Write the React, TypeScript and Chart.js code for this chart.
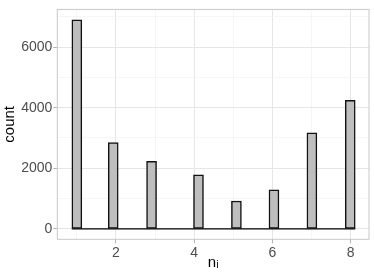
import React, { useEffect, useRef } from "react";
import { Chart, registerables } from "chart.js";

Chart.register(...registerables);

const binCenters = [1, 1.93, 2.91, 4.11, 5.08, 6.04, 7.01, 7.99];
const counts = [6900, 2850, 2230, 1785, 920, 1285, 3170, 4245];
const baselineX = [0.87, 8.12];
const xTicks = [1, 2, 3, 4, 5, 6, 7, 8];
const yTicks = [0, 1000, 2000, 3000, 4000, 5000, 6000, 7000];
const xTitle = "nᵢ";
const yTitle = "count";

const FONT = "'Liberation Sans', Arial, Helvetica, sans-serif";

const panelBorder = {
  id: "panelBorder",
  afterDraw(chart: any) {
    const { ctx, chartArea } = chart;
    ctx.save();
    ctx.strokeStyle = "#c8c8c8";
    ctx.lineWidth = 1;
    ctx.strokeRect(chartArea.left, chartArea.top, chartArea.right - chartArea.left, chartArea.bottom - chartArea.top);
    ctx.restore();
  },
};

export default function App() {
  const ref = useRef<HTMLCanvasElement>(null);
  useEffect(() => {
    const chart = new Chart(ref.current!, {
      type: "bar",
      data: {
        datasets: [
          {
            type: "line",
            data: baselineX.map((x) => ({ x, y: 0 })),
            borderColor: "#000000",
            borderWidth: 1.4,
            pointRadius: 0,
            order: 0,
          } as any,
          {
            type: "bar",
            data: binCenters.map((x, i) => ({ x, y: counts[i] })),
            backgroundColor: "#bebebe",
            borderColor: "#111111",
            borderWidth: 1.5,
            borderSkipped: false,
            barThickness: 10,
            order: 1,
          } as any,
        ],
      },
      plugins: [panelBorder],
      options: {
        animation: false,
        responsive: false,
        maintainAspectRatio: false,
        layout: { padding: { left: 0, top: 5, right: 5, bottom: 0 } },
        plugins: { legend: { display: false }, tooltip: { enabled: false } },
        scales: {
          x: {
            type: "linear",
            offset: false,
            min: 0.5,
            max: 8.47,
            afterBuildTicks: (s: any) => {
              s.ticks = xTicks.map((v) => ({ value: v }));
            },
            afterFit: (s: any) => {
              s.height = 39.7;
            },
            ticks: {
              autoSkip: false,
              maxRotation: 0,
              padding: 1,
              color: "#4d4d4d",
              font: { family: FONT, size: 14 },
              callback: (v: any) => (Number(v) % 2 === 0 ? String(v) : ""),
            },
            grid: {
              offset: false,
              color: (c: any) => (c.tick && c.tick.value % 2 === 0 ? "#e6e6e6" : "#f2f2f2"),
              lineWidth: (c: any) => (c.tick && c.tick.value % 2 === 0 ? 1 : 0.7),
              tickColor: (c: any) => (c.tick && c.tick.value % 2 === 0 ? "#b3b3b3" : "rgba(0,0,0,0)"),
              tickLength: 4,
            },
            border: { display: false },
            title: {
              display: true,
              text: xTitle,
              color: "#000000",
              font: { family: FONT, size: 15 },
              padding: { top: 0, bottom: 7 },
            },
          },
          y: {
            type: "linear",
            min: -345,
            max: 7245,
            afterBuildTicks: (s: any) => {
              s.ticks = yTicks.map((v) => ({ value: v }));
            },
            afterFit: (s: any) => {
              s.width = 57.3;
            },
            ticks: {
              autoSkip: false,
              padding: 1,
              color: "#4d4d4d",
              font: { family: FONT, size: 14 },
              callback: (v: any) => (Number(v) % 2000 === 0 ? String(v) : ""),
            },
            grid: {
              color: (c: any) => (c.tick && c.tick.value % 2000 === 0 ? "#e6e6e6" : "#f2f2f2"),
              lineWidth: (c: any) => (c.tick && c.tick.value % 2000 === 0 ? 1 : 0.7),
              tickColor: (c: any) => (c.tick && c.tick.value % 2000 === 0 ? "#b3b3b3" : "rgba(0,0,0,0)"),
              tickLength: 4,
            },
            border: { display: false },
            title: {
              display: true,
              text: yTitle,
              color: "#000000",
              font: { family: FONT, size: 15 },
              padding: { top: 1, bottom: 0 },
            },
          },
        },
      },
    });
    return () => chart.destroy();
  }, []);
  return (
    <div style={{ position: "fixed", left: 0, top: 0, width: 374, height: 279, background: "#fff" }}>
      <canvas ref={ref} width={374} height={279} style={{ width: 374, height: 279, display: "block" }} />
    </div>
  );
}
